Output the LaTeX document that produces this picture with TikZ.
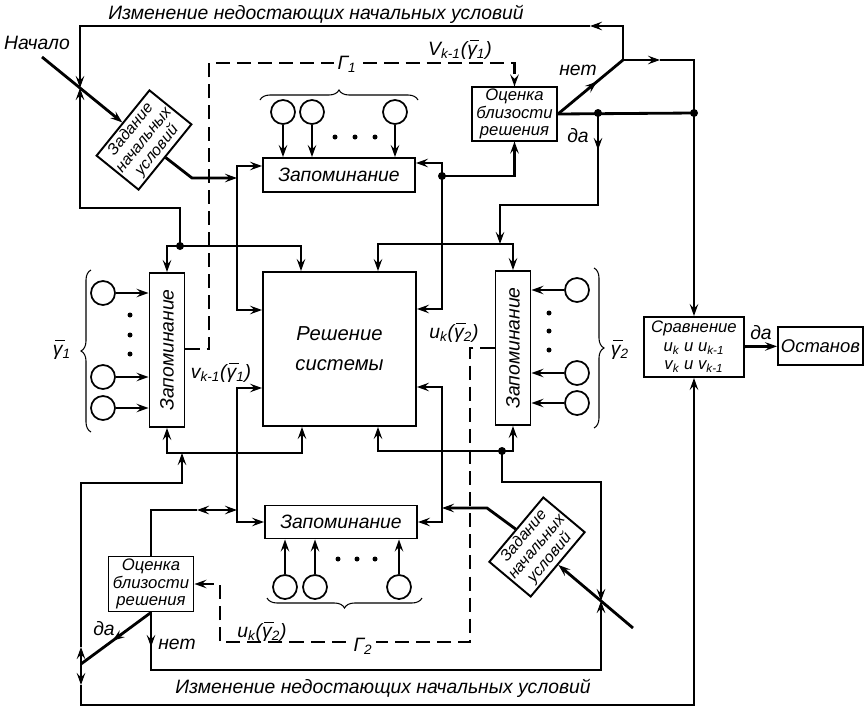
\documentclass[tikz,border=0pt]{standalone}
\usepackage{fontspec}
\setmainfont{Liberation Sans}
\usepackage{graphicx}
\usetikzlibrary{arrows.meta,calc,decorations.pathreplacing}

\newcommand\gb[1]{\rlap{\hspace{0.12em}\rule[1.45ex]{0.5em}{0.45pt}}γ\textsubscript{#1}}

\begin{document}
\begin{tikzpicture}[x=0.2mm, y=-0.2mm,
  every node/.style={font=\itshape\fontsize{11}{13}\selectfont},
  box/.style={draw, line width=1.1pt, inner sep=1pt, align=center},
  est/.style={box, minimum width=17mm, font=\itshape\fontsize{9.5}{9.8}\selectfont},
  init/.style={box, minimum width=16.8mm, minimum height=10.8mm, font=\itshape\fontsize{9}{9.6}\selectfont},
  cell/.style={circle, draw, line width=1pt, minimum size=4.8mm, inner sep=0pt},
  wire/.style={line width=1.6pt},
  arr/.style={wire, -{Stealth[length=2.4mm,width=1.7mm,inset=0.9mm]}},
  twoarr/.style={wire, {Stealth[length=2.4mm,width=1.7mm,inset=0.9mm]}-{Stealth[length=2.4mm,width=1.7mm,inset=0.9mm]}},
  sig/.style={line width=1.3pt, dash pattern=on 8pt off 4pt},
  brc/.style={decorate, decoration={brace, amplitude=2mm}, line width=0.6pt}
]
\useasboundingbox (0,0) rectangle (868,708);

% blocks
\node[box, minimum width=30.4mm, minimum height=6.8mm] (memT) at (339,175) {Запоминание};
\node[box, minimum width=30.4mm, minimum height=6.6mm] (memB) at (341,522) {Запоминание};
\node[box, minimum width=7mm, minimum height=30.8mm] (memL) at (167,350) {\rotatebox{90}{Запоминание}};
\node[box, minimum width=7mm, minimum height=30.8mm] (memR) at (513,348) {\rotatebox{90}{Запоминание}};
\node[box, minimum width=30.6mm, minimum height=30.8mm, font=\itshape\fontsize{11.5}{17}\selectfont] (solve) at (339.5,349) {Решение\\системы};
\node[est, minimum height=10.4mm] (estT) at (514.5,114) {Оценка\\близости\\решения};
\node[est, minimum height=11mm] (estB) at (151,584) {Оценка\\близости\\решения};
\node[box, minimum width=20mm, minimum height=12mm, font=\itshape\fontsize{9.5}{10.5}\selectfont] (cmp) at (694,347) {Сравнение\\u\textsubscript{k} и u\textsubscript{k-1}\\v\textsubscript{k} и v\textsubscript{k-1}};
\node[box, minimum width=17mm, minimum height=7.6mm, font=\itshape\fontsize{10.5}{12}\selectfont] (stop) at (820.5,346) {Останов};
\node[init, rotate=51] (initT) at (144,140) {Задание\\начальных\\условий};
\node[init, rotate=50] (initB) at (537,547) {Задание\\начальных\\условий};

% inputs
\foreach \x [count=\i] in {283,312,395} \node[cell] (cT\i) at (\x,112) {};
\foreach \x [count=\i] in {285,315,399} \node[cell] (cB\i) at (\x,587) {};
\foreach \y [count=\i] in {293,377,408} \node[cell] (cL\i) at (103,\y) {};
\foreach \y [count=\i] in {290,373,403} \node[cell] (cR\i) at (577,\y) {};
\foreach \i in {1,2,3} {
  \draw[arr] (cT\i) -- (cT\i |- memT.north);
  \draw[arr] (cB\i) -- (cB\i |- memB.south);
  \draw[arr] (cL\i) -- (cL\i -| memL.west);
  \draw[arr] (cR\i) -- (cR\i -| memR.east);
}
\foreach \x in {335,355,375} \fill (\x,137) circle (0.5mm);
\foreach \x in {338,357,375} \fill (\x,559) circle (0.5mm);
\foreach \y in {315,335,354} \fill (130,\y) circle (0.5mm);
\foreach \y in {313,331,350} \fill (549,\y) circle (0.5mm);
\draw[brc] (260,100) -- (418,100);
\draw[brc] (422,598) -- (267,598);
\draw[brc] (91,432) -- (91,270);
\draw[brc] (594,268) -- (594,428);

% labels
\node (title1) at (316,14) {Изменение недостающих начальных условий};
\node (title2) at (383,688) {Изменение недостающих начальных условий};
\node (start) at (37,43) {Начало};
\node (lblg1) at (62,350) {\gb{1}};
\node (lblg2) at (620,350) {\gb{2}};
\node (lblV1) at (460,50) {V\textsubscript{k-1}(\gb{1})};
\node (lblV2) at (221,373) {v\textsubscript{k-1}(\gb{1})};
\node (lblU1) at (454,333) {u\textsubscript{k}(\gb{2})};
\node (lblU2) at (262,632) {u\textsubscript{k}(\gb{2})};
\node (lblNo1) at (578,70) {нет};
\node (lblYes1) at (578,136) {да};
\node (lblYes3) at (104,629) {да};
\node (lblNo2) at (177,644) {нет};

% junctions
\coordinate (s0) at (42,57);
\coordinate (s1) at (633,628);
\coordinate (xT) at (80,88);
\coordinate (xB) at (601,601);
\coordinate (xL) at (81,664);
\coordinate (jN) at (623,60);
\coordinate (jD) at (598,113);
\coordinate (jR) at (694,113);
\coordinate (jT) at (442,176);
\coordinate (jL1) at (237,178);
\coordinate (jL2) at (180,246);
\coordinate (jR2) at (500,244);
\coordinate (jR3) at (502,451);
\coordinate (jL3) at (182,453);
\coordinate (jB1) at (442,508);
\coordinate (jB2) at (237,510);

% top loop
\draw[arr] (s0) -- (initT.north);
\draw[arr] (jN) -- (623,26) -- (590,26);
\draw[arr] (590,26) -| (xT);
\draw[arr] (jL2) -- (180,208) -| (xT);
\draw[arr] (initT.south) -- (192,178) -- (jL1);
\draw[arr] (jL1) |- (memT.west |- 0,166);
\draw[arr] (jL1) |- (solve.west |- 0,310);
\draw[arr] (jL2) -| (memL.north);
\draw[arr] (jL2) -| (solve.north -| 301,0);

% top estimator
\draw[arr, sig] (memL.east |- 0,349) -- (209,349) -- (209,63) -| (estT.north);
\node[fill=white, inner sep=2pt] (lblG1) at (347,64) {Г\textsubscript{1}};
\draw[wire] (estT.east) -- (jR);
\draw[arr] (estT.east) -- ($(estT.east)!0.6!(jN)$);
\draw[wire] ($(estT.east)!0.5!(jN)$) -- (jN);
\draw[arr] (jN) -- (660,60);
\draw[arr] (660,60) -| (cmp.north);
\draw[arr] (jD) -- (598,150);
\draw[arr] (598,148) -- (598,205) -| (jR2);
\draw[arr] (jR2) -| (memR.north);
\draw[arr] (jR2) -| (solve.north -| 378,0);
\draw[arr] (jT) |- (memT.east |- 0,163);
\draw[arr] (jT) -| (estT.south);
\draw[arr] (jT) |- (solve.east |- 0,309);
\draw[arr] (cmp) -- node[above] {да} (stop);

% bottom right
\draw[arr] (jR3) -| (memR.south);
\draw[arr] (jR3) -| (solve.south -| 378,0);
\draw[arr] (jR3) -- (502,482) -| (xB);
\draw[arr] (s1) -- (initB.south);
\draw[arr] (initB.north) -- (487,508) -- (jB1);
\draw[arr] (jB1) |- (solve.east |- 0,387);
\draw[arr] (jB1) |- (memB.east);

% bottom estimator
\draw[arr] (jB2) |- (solve.west |- 0,388);
\draw[arr] (jB2) |- (memB.west);
\draw[wire] (estB.north) |- (197,510);
\draw[twoarr] (197,510) -- (jB2);
\draw[arr, sig] (memR.west |- 0,348) -- (470,348) -- (470,642) -| (220,584) -- (estB.east);
\node[fill=white, inner sep=2pt] (lblG2) at (363,646) {Г\textsubscript{2}};
\draw[arr] (estB.south) -- ($(estB.south)!0.55!(xL)$);
\draw[wire] ($(estB.south)!0.5!(xL)$) -- (xL);
\draw[arr] (estB.south) -- (estB.south |- 0,647);
\draw[arr] (estB.south |- 0,640) -- (estB.south |- 0,670) -| (xB);

% left loop
\draw[arr] (jL3) -| (memL.south);
\draw[arr] (jL3) -| (solve.south -| 302,0);
\draw[arr] (xL) -- (81,647);
\draw[arr] (81,647) -- (81,483) -| (jL3);
\draw[arr] (xL) -- (81,685);
\draw[arr] (81,685) -- (81,705) -| (cmp.south);

\foreach \p in {jL2,jT,jD,jR,jR3} \fill (\p) circle (0.8mm);
\end{tikzpicture}
\end{document}
